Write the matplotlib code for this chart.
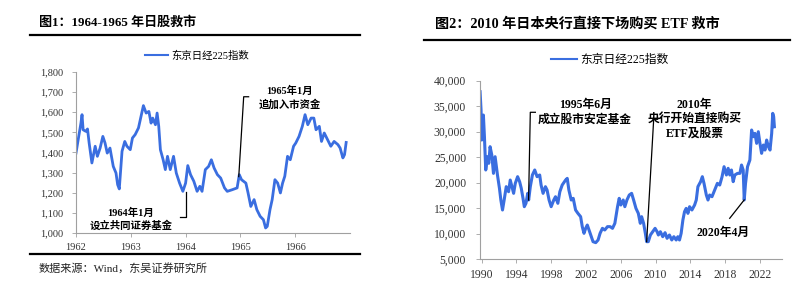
import matplotlib
matplotlib.use("Agg")
import matplotlib.pyplot as plt
from matplotlib.ticker import FuncFormatter

# left chart: Nikkei 225, 1962-1966
yr1 = [1962.00, 1962.04, 1962.09, 1962.11, 1962.13, 1962.18, 1962.21, 1962.24, 1962.29, 1962.35,
       1962.39, 1962.44, 1962.49, 1962.53, 1962.57, 1962.62, 1962.68, 1962.73, 1962.76, 1962.79,
       1962.84, 1962.89, 1962.93, 1962.99, 1963.03, 1963.08, 1963.14, 1963.20, 1963.23, 1963.28,
       1963.33, 1963.37, 1963.40, 1963.45, 1963.48, 1963.51, 1963.54, 1963.59, 1963.63, 1963.67,
       1963.72, 1963.78, 1963.83, 1963.89, 1963.95, 1964.00, 1964.04, 1964.09, 1964.15, 1964.21,
       1964.26, 1964.30, 1964.36, 1964.42, 1964.47, 1964.52, 1964.58, 1964.64, 1964.71, 1964.76,
       1964.85, 1964.94, 1964.98, 1965.02, 1965.10, 1965.14, 1965.19, 1965.25, 1965.30, 1965.36,
       1965.42, 1965.46, 1965.49, 1965.54, 1965.58, 1965.63, 1965.68, 1965.73, 1965.77, 1965.81,
       1965.86, 1965.91, 1965.97, 1966.01, 1966.07, 1966.13, 1966.18, 1966.23, 1966.29, 1966.34,
       1966.38, 1966.44, 1966.48, 1966.53, 1966.59, 1966.65, 1966.71, 1966.78, 1966.82, 1966.87,
       1966.90, 1966.93]
nk1 = [1397, 1464, 1546, 1588, 1513, 1505, 1517, 1447, 1348, 1431,
       1381, 1422, 1480, 1447, 1397, 1422, 1331, 1298, 1240, 1219,
       1406, 1455, 1431, 1414, 1472, 1489, 1522, 1596, 1633, 1596,
       1604, 1546, 1571, 1538, 1596, 1530, 1414, 1364, 1315, 1381,
       1315, 1381, 1298, 1248, 1207, 1248, 1335, 1290, 1257, 1207,
       1232, 1207, 1315, 1331, 1364, 1323, 1290, 1273, 1224, 1207,
       1215, 1224, 1290, 1265, 1248, 1199, 1132, 1166, 1116, 1083,
       1066, 1025, 1033, 1116, 1166, 1265, 1248, 1199, 1248, 1282,
       1381, 1364, 1431, 1447, 1480, 1530, 1588, 1538, 1571, 1571,
       1513, 1530, 1455, 1497, 1464, 1431, 1455, 1439, 1422, 1373,
       1389, 1450]

# right chart: Nikkei 225, 1990-2023
yr2 = [1989.81, 1989.92, 1990.00, 1990.12, 1990.19, 1990.31, 1990.46, 1990.66, 1990.81, 1990.96,
       1991.16, 1991.35, 1991.54, 1991.81, 1992.04, 1992.20, 1992.39, 1992.58, 1992.82, 1993.09,
       1993.28, 1993.47, 1993.67, 1993.86, 1994.13, 1994.36, 1994.55, 1994.75, 1994.90, 1995.09,
       1995.29, 1995.40, 1995.59, 1995.83, 1996.10, 1996.37, 1996.67, 1996.83, 1997.06, 1997.33,
       1997.52, 1997.75, 1997.99, 1998.29, 1998.49, 1998.76, 1998.99, 1999.26, 1999.65, 1999.84,
       2000.03, 2000.30, 2000.53, 2000.80, 2001.07, 2001.38, 2001.57, 2001.77, 2001.96, 2002.15,
       2002.35, 2002.54, 2002.81, 2003.12, 2003.39, 2003.62, 2003.89, 2004.16, 2004.47, 2004.78,
       2005.05, 2005.32, 2005.63, 2005.82, 2006.01, 2006.28, 2006.47, 2006.71, 2006.98, 2007.25,
       2007.48, 2007.75, 2008.02, 2008.25, 2008.40, 2008.63, 2008.83, 2008.98, 2009.17, 2009.41,
       2009.68, 2009.95, 2010.18, 2010.33, 2010.56, 2010.83, 2011.10, 2011.33, 2011.60, 2011.87,
       2012.11, 2012.38, 2012.57, 2012.76, 2012.95, 2013.15, 2013.34, 2013.53, 2013.73, 2013.92,
       2014.19, 2014.50, 2014.69, 2014.88, 2015.19, 2015.39, 2015.58, 2015.85, 2016.04, 2016.23,
       2016.50, 2016.81, 2017.12, 2017.39, 2017.66, 2017.89, 2018.16, 2018.36, 2018.55, 2018.74,
       2018.94, 2019.13, 2019.44, 2019.71, 2019.90, 2020.09, 2020.21, 2020.36, 2020.59, 2020.86,
       2021.06, 2021.25, 2021.44, 2021.64, 2021.83, 2022.02, 2022.21, 2022.41, 2022.60, 2022.79,
       2022.99, 2023.18, 2023.37, 2023.49, 2023.60, 2023.68]
nk2 = [37840, 34240, 28350, 30970, 33260, 29010, 22470, 25080, 23780, 27050,
       25410, 21810, 25080, 21490, 18870, 16580, 14620, 16580, 19200, 18210,
       20500, 19200, 17890, 19850, 21160, 20180, 18870, 16910, 15270, 15930,
       17890, 16580, 19200, 21490, 22470, 21160, 21490, 19520, 17890, 19200,
       18540, 16580, 15270, 16580, 17230, 15930, 18210, 19520, 20500, 20830,
       18540, 16580, 16910, 14620, 13960, 13310, 11350, 10040, 11020, 11670,
       10690, 9710, 8400, 8210, 8730, 10040, 11020, 10690, 11350, 11350,
       11020, 12000, 15270, 16910, 15600, 16580, 15270, 16580, 17560, 17890,
       16580, 14940, 13960, 12000, 13310, 12000, 10040, 8400, 8400, 9710,
       10360, 11020, 10360, 9710, 10360, 9380, 10170, 9060, 9710, 8730,
       9380, 8730, 9380, 8730, 10040, 12650, 14290, 14940, 13960, 15270,
       14620, 15600, 16580, 19200, 20180, 21160, 19850, 17560, 16580, 17560,
       17230, 18540, 19850, 19520, 21160, 23120, 21490, 22800, 21490, 22470,
       20180, 21490, 21810, 21810, 23450, 22470, 16580, 19850, 23120, 24430,
       30320, 29010, 29660, 27700, 29990, 27700, 25740, 27370, 26390, 28350,
       27050, 26390, 29660, 33590, 32930, 30970]

xticks1 = [1962, 1963, 1964, 1965, 1966]
yticks1 = [1000, 1100, 1200, 1300, 1400, 1500, 1600, 1700, 1800]
xticks2 = [1990, 1994, 1998, 2002, 2006, 2010, 2014, 2018, 2022]
yticks2 = [5000, 10000, 15000, 20000, 25000, 30000, 35000, 40000]

series_name = "东京日经225指数"
title1 = "图1：1964-1965 年日股救市"
title2 = "图2：2010 年日本央行直接下场购买 ETF 救市"
source = "数据来源：Wind，东吴证券研究所"

SERIF = ["Liberation Serif", "Noto Sans CJK SC"]
line_col = "#3a6ee0"

fig = plt.figure(figsize=(8, 2.83), dpi=100)
fmt = FuncFormatter(lambda v, p: f"{int(v):,}")


def style(ax, fs, ypad):
    for s in ["top", "right"]:
        ax.spines[s].set_visible(False)
    for s in ["left", "bottom"]:
        ax.spines[s].set_color("#a0a0a0")
        ax.spines[s].set_linewidth(0.8)
    ax.tick_params(length=3, width=0.6, color="#a0a0a0", labelsize=fs,
                   labelcolor="#333333")
    ax.tick_params(axis="y", pad=ypad)
    ax.tick_params(axis="x", pad=4)
    for lab in ax.get_xticklabels() + ax.get_yticklabels():
        lab.set_family(SERIF)
    ax.yaxis.set_major_formatter(fmt)


# ---- left panel ----
ax1 = fig.add_axes([76 / 800, 1 - 233 / 283, 274 / 800, 161 / 283])
ax1.plot(yr1, nk1, color=line_col, lw=2.0, label=series_name)
ax1.set_xlim(1962, 1967)
ax1.set_ylim(1000, 1800)
ax1.set_xticks(xticks1)
ax1.set_yticks(yticks1)
style(ax1, 7.5, 6)

ann = dict(color="black", lw=0.9, clip_on=False)
ax1.plot([1963.90, 1964.0, 1964.0], [1080, 1080, 1205], **ann)
ax1.text(1963.0, 1070, "1964年1月\n设立共同证券基金", ha="center", va="center",
         fontsize=7.5, fontweight="bold", family=SERIF, linespacing=1.3)
ax1.plot([1964.97, 1965.06, 1965.15], [1280, 1677, 1677], **ann)
ax1.text(1965.9, 1672, "1965年1月\n追加入市资金", ha="center", va="center",
         fontsize=7.5, fontweight="bold", family=SERIF, linespacing=1.3)

fig.text(39 / 800, 1 - 23 / 283, title1, fontsize=9.4, fontweight="bold",
         family=SERIF, va="center", ha="left")
fig.add_artist(plt.Line2D([30 / 800, 360 / 800], [1 - 35 / 283] * 2,
                          color="black", lw=1.6))
fig.add_artist(plt.Line2D([30 / 800, 360 / 800], [1 - 254 / 283] * 2,
                          color="black", lw=1.6))
fig.text(39 / 800, 1 - 268 / 283, source, fontsize=8, family=SERIF,
         va="center", ha="left", color="#222222")
leg1 = ax1.legend(loc="center", bbox_to_anchor=(197 / 800, 1 - 56 / 283),
                  bbox_transform=fig.transFigure, frameon=False,
                  prop={"family": SERIF, "size": 7.5}, handlelength=2.2,
                  handletextpad=0.3)
leg1.get_lines()[0].set_linewidth(1.5)

# ---- right panel ----
ax2 = fig.add_axes([480 / 800, 1 - 259 / 283, 301.5 / 800, 178.3 / 283])
ax2.plot(yr2, nk2, color=line_col, lw=2.2, label=series_name)
ax2.set_xlim(1989.8, 2024.5)
ax2.set_ylim(5000, 40000)
ax2.set_xticks(xticks2)
ax2.set_yticks(yticks2)
style(ax2, 8.4, 7)

ax2.plot([1995.39, 1995.59, 1996.17], [16580, 33800, 33800], **ann)
ax2.text(2001.9, 33800, "1995年6月\n成立股市安定基金", ha="center", va="center",
         fontsize=8.5, fontweight="bold", family=SERIF, linespacing=1.3)
ax2.plot([2008.98, 2009.79, 2010.25], [8400, 32420, 32420], **ann)
ax2.text(2014.5, 32500, "2010年\n央行开始直接购买\nETF及股票", ha="center",
         va="center", fontsize=8.5, fontweight="bold", family=SERIF,
         linespacing=1.25)
ax2.plot([2020.2, 2018.54], [16580, 12990], **ann)
ax2.text(2017.8, 10100, "2020年4月", ha="center", va="center",
         fontsize=8.5, fontweight="bold", family=SERIF)

fig.text(435 / 800, 1 - 24 / 283, title2, fontsize=10.2, fontweight="bold",
         family=SERIF, va="center", ha="left")
fig.add_artist(plt.Line2D([424 / 800, 790 / 800], [1 - 40 / 283] * 2,
                          color="black", lw=1.6))
leg2 = ax2.legend(loc="center", bbox_to_anchor=(610 / 800, 1 - 60 / 283),
                  bbox_transform=fig.transFigure, frameon=False,
                  prop={"family": SERIF, "size": 8.5}, handlelength=2.2,
                  handletextpad=0.3)
leg2.get_lines()[0].set_linewidth(1.5)

fig.savefig("out.png", dpi=100)
